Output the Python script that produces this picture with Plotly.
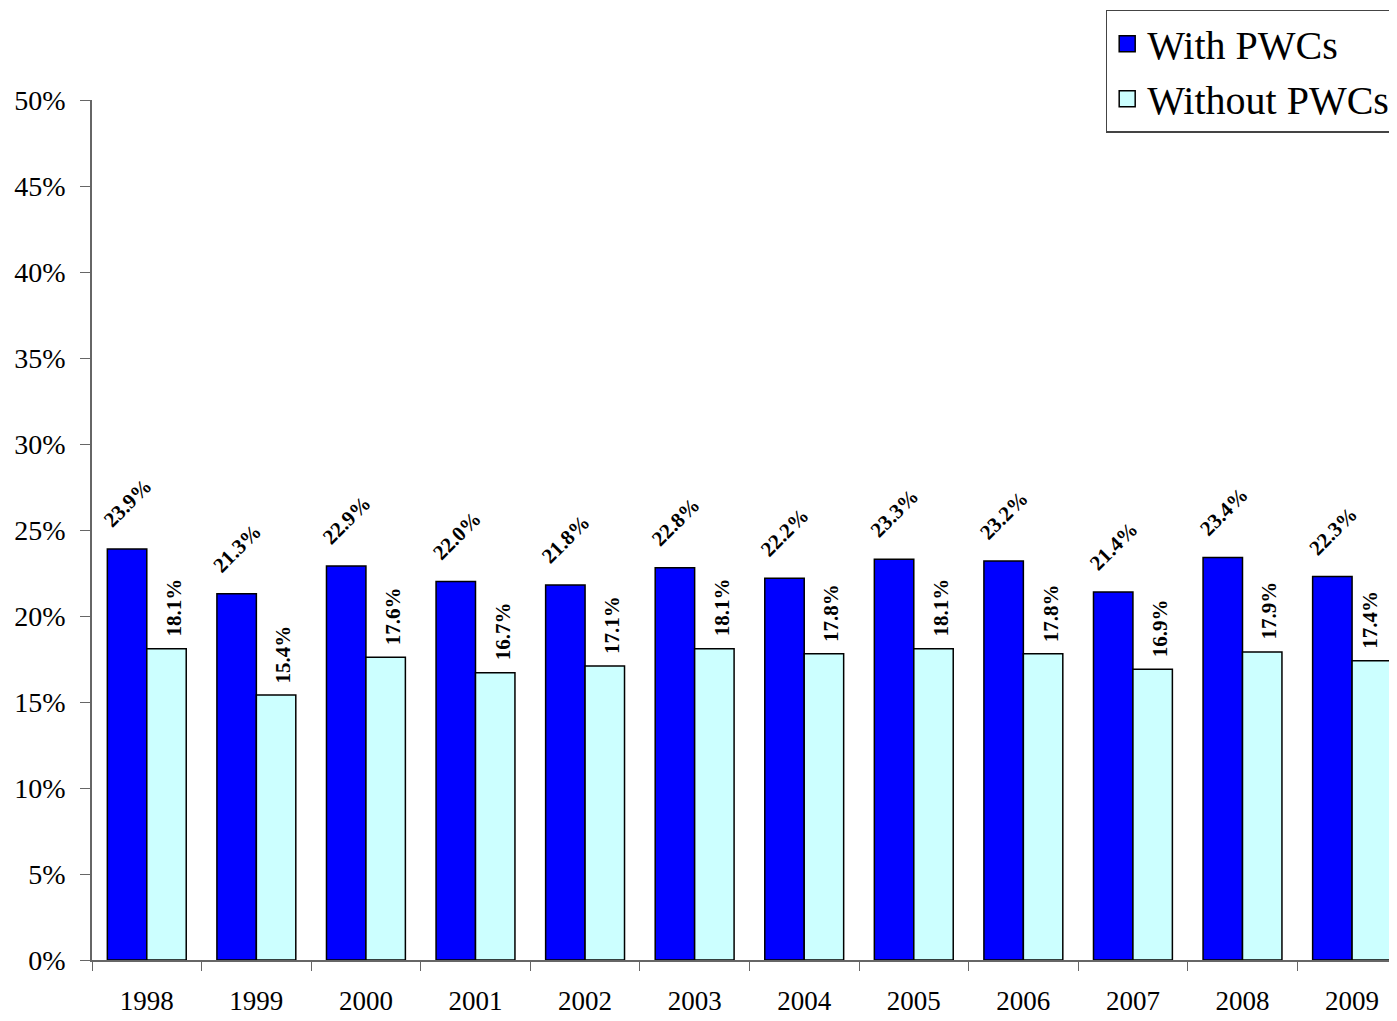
import plotly.graph_objects as go

years = ['1998', '1999', '2000', '2001', '2002', '2003', '2004', '2005', '2006', '2007', '2008', '2009']
with_pwcs = [23.9, 21.3, 22.9, 22.0, 21.8, 22.8, 22.2, 23.3, 23.2, 21.4, 23.4, 22.3]
without_pwcs = [18.1, 15.4, 17.6, 16.7, 17.1, 18.1, 17.8, 18.1, 17.8, 16.9, 17.9, 17.4]

serif = 'Liberation Serif, Times New Roman, serif'
blue = '#0000FF'
cyan = '#CCFFFF'

fig = go.Figure()
fig.add_trace(go.Bar(x=years, y=[v / 100 for v in with_pwcs], name='With PWCs',
                     marker=dict(color=blue, line=dict(color='black', width=1.5)),
                     showlegend=False))
fig.add_trace(go.Bar(x=years, y=[v / 100 for v in without_pwcs], name='Without PWCs',
                     marker=dict(color=cyan, line=dict(color='black', width=1.5)),
                     showlegend=False))

# legend proxies with bigger square swatches
for name, col in [('With PWCs', blue), ('Without PWCs', cyan)]:
    fig.add_trace(go.Scatter(x=[None], y=[None], mode='markers', name=name,
                             marker=dict(symbol='square', size=22, color=col,
                                         line=dict(color='black', width=1.5))))

# value labels (x given as category index)
for i, v in enumerate(with_pwcs):
    fig.add_annotation(x=i, y=v / 100, text=f'<b>{v:.1f}%</b>', showarrow=False,
                       textangle=-45, xanchor='center', yanchor='bottom',
                       xshift=-19, yshift=14,
                       font=dict(family=serif, size=21, color='black'))
n = len(without_pwcs)
for i, v in enumerate(without_pwcs):
    # last label is kept inside the chart edge
    fig.add_annotation(x=i, y=v / 100, text=f'<b>{v:.1f}%</b>', showarrow=False,
                       textangle=-90, xanchor='center', yanchor='bottom',
                       xshift=27 if i < n - 1 else 18, yshift=10,
                       font=dict(family=serif, size=21, color='black'))

fig.update_layout(
    width=1389, height=1013,
    margin=dict(l=84, r=0, t=92, b=61, autoexpand=False),
    paper_bgcolor='white', plot_bgcolor='white',
    barmode='group', bargap=0.28, bargroupgap=0,
    font=dict(family=serif, color='black'),
    legend=dict(
        x=0.999, xanchor='right', y=1.105, yanchor='top',
        font=dict(family=serif, size=40, color='black'),
        bordercolor='#444', borderwidth=1.5, bgcolor='white',
        itemwidth=30, tracegroupgap=0,
    ),
)
fig.update_xaxes(
    type='category', range=[-0.5, 11.41], tickson='boundaries', ticks='outside', ticklen=9,
    tickcolor='#666', showline=True, linecolor='#666', linewidth=1.5,
    tickfont=dict(family=serif, size=27, color='black'), ticklabelstandoff=16,
    showgrid=False,
)
fig.update_yaxes(
    range=[0, 0.5], dtick=0.05, tickformat='.0%', ticks='outside', ticklen=10,
    tickcolor='#666', showline=True, linecolor='#666', linewidth=1.5,
    tickfont=dict(family=serif, size=28, color='black'), ticklabelstandoff=9,
    showgrid=False, zeroline=False,
)

fig.write_html('out.html')
